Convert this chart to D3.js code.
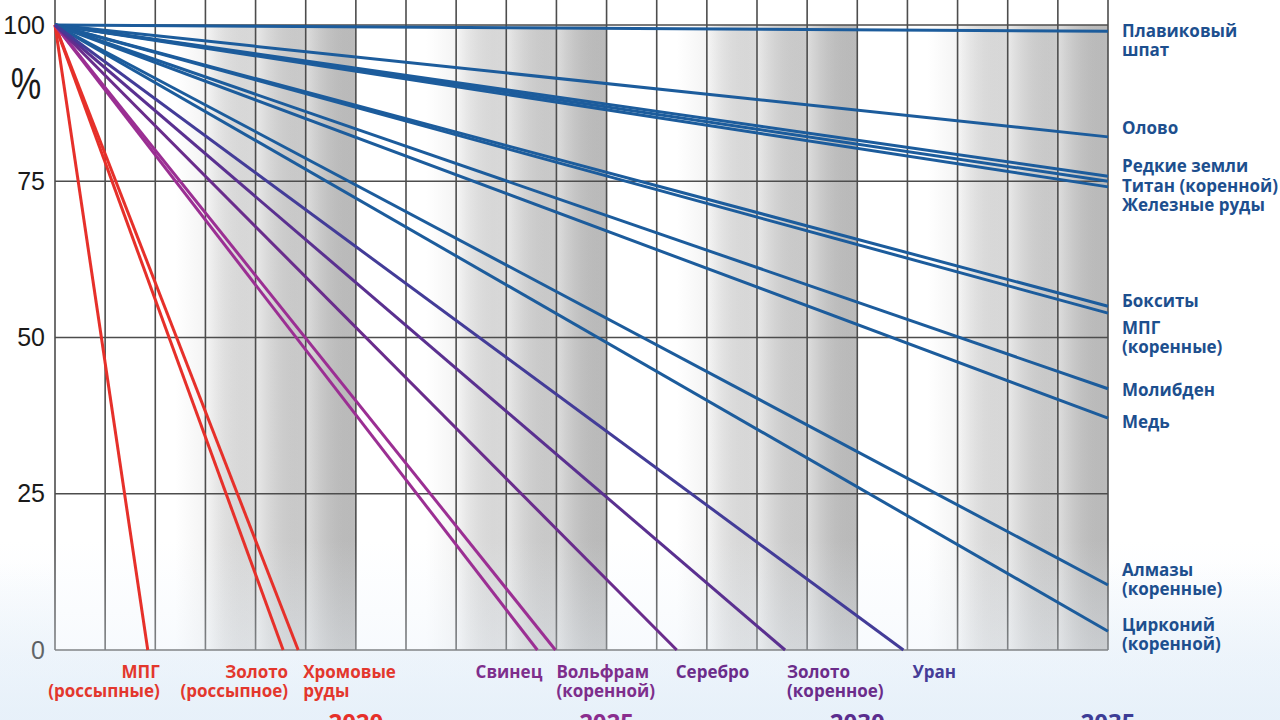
<!DOCTYPE html>
<html><head><meta charset="utf-8">
<script src="https://cdn.jsdelivr.net/npm/d3@7"></script>
<style>html,body{margin:0;padding:0;background:#fff;} svg{display:block}</style>
</head><body>
<svg id="chart" width="1280" height="720"></svg>
<script>
// ---------- DATA ----------
const startYear = 2014;
const endYear = 2035;
const yTickValues = [0, 25, 50, 75, 100];
const periodYears = [2020, 2025, 2030, 2035];

// commodities exhausted before 2035: year at which reserve reaches 0 %
const depletedNames = ["МПГ\n(россыпные)", "Золото\n(россыпное)", "Хромовые\nруды", "Свинец",
  "Вольфрам\n(коренной)", "Серебро", "Золото\n(коренное)", "Уран"];
const depletedYears = [2015.85, 2018.55, 2018.85, 2023.62, 2023.98, 2026.4, 2028.56, 2030.92];

// commodities remaining in 2035: reserve % left in 2035
const remainingNames = ["Плавиковый шпат", "Олово", "Редкие земли", "Титан (коренной)", "Железные руды",
  "Бокситы", "МПГ (коренные)", "Молибден", "Медь", "Алмазы (коренные)", "Цирконий (коренной)"];
const remaining2035 = [99.0, 82.1, 75.8, 75.0, 74.1, 55.0, 53.9, 41.8, 37.1, 10.4, 3.0];

// ---------- STYLE / LAYOUT ----------
const depletedColors = ["#e6302a", "#e6302a", "#e6302a", "#9b2f93", "#9b2f93", "#6a2c8c", "#5a3090", "#433c98"];
const depletedLabelColors = ["#e3372d", "#e3372d", "#e3372d", "#7e2e8c", "#7e2e8c", "#6b2c8a", "#6b2c8a", "#463d97"];
const depletedLabelAnchor = ["end", "end", "start", "end", "start", "start", "start", "start"];
const depletedLabelDx = [12, 5, 5, 5, 1, -1, 2, 9];
const yearColors = ["#e6302a", "#8a2d8e", "#5a2d8e", "#3d3d96"];
const blue = "#1c5c9c";
const blueLabel = "#1d4f8e";
const rightLabelLines = [["Плавиковый", "шпат"], ["Олово"], ["Редкие земли"], ["Титан (коренной)"], ["Железные руды"],
  ["Бокситы"], ["МПГ", "(коренные)"], ["Молибден"], ["Медь"], ["Алмазы", "(коренные)"], ["Цирконий", "(коренной)"]];
const rightLabelY = [31, 128, 166, 186, 205, 301, 328, 390, 422, 570, 625];

const svg = d3.select("#chart");
const W = 1280, H = 720;
const x = d3.scaleLinear().domain([startYear, endYear]).range([55, 1108]);
const y = d3.scaleLinear().domain([0, 100]).range([650, 25]);
const labelFont = "'Open Sans', 'Noto Sans', sans-serif";

const defs = svg.append("defs");
const bg = defs.append("linearGradient").attr("id", "bg").attr("x1", 0).attr("y1", 0).attr("x2", 0).attr("y2", 1);
bg.append("stop").attr("offset", 0).attr("stop-color", "#ffffff");
bg.append("stop").attr("offset", 0.78).attr("stop-color", "#ffffff");
bg.append("stop").attr("offset", 1).attr("stop-color", "#e6f0f9");
const band = defs.append("linearGradient").attr("id", "band").attr("x1", 0).attr("y1", 0).attr("x2", 1).attr("y2", 0);
band.append("stop").attr("offset", 0).attr("stop-color", "#ffffff");
band.append("stop").attr("offset", 0.25).attr("stop-color", "#eeeeee");
band.append("stop").attr("offset", 0.6).attr("stop-color", "#dadada");
band.append("stop").attr("offset", 1).attr("stop-color", "#c3c3c3");
const col = defs.append("linearGradient").attr("id", "col").attr("x1", 0).attr("y1", 0).attr("x2", 1).attr("y2", 0);
col.append("stop").attr("offset", 0).attr("stop-color", "#ffffff").attr("stop-opacity", 0.25);
col.append("stop").attr("offset", 1).attr("stop-color", "#000000").attr("stop-opacity", 0.04);
const fog = defs.append("linearGradient").attr("id", "fog").attr("x1", 0).attr("y1", 0).attr("x2", 0).attr("y2", 1);
fog.append("stop").attr("offset", 0).attr("stop-color", "#e8f1fa").attr("stop-opacity", 0);
fog.append("stop").attr("offset", 1).attr("stop-color", "#e8f1fa").attr("stop-opacity", 0.55);

svg.append("rect").attr("width", W).attr("height", H).attr("fill", "url(#bg)");
// plot background
svg.append("rect").attr("x", x(startYear)).attr("y", y(100)).attr("width", x(endYear) - x(startYear))
  .attr("height", y(0) - y(100)).attr("fill", "#ffffff");

// shaded 5-year bands
svg.append("g").selectAll("rect").data(periodYears).join("rect")
  .attr("x", d => x(d - 3.6)).attr("y", y(100))
  .attr("width", d => x(d) - x(d - 3.6)).attr("height", y(0) - y(100))
  .attr("fill", "url(#band)");
// subtle per-column shading inside bands
const bandCols = [];
periodYears.forEach(p => { for (let k = 3; k >= 1; k--) bandCols.push(p - k); });
svg.append("g").selectAll("rect").data(bandCols).join("rect")
  .attr("x", d => x(d)).attr("y", y(100))
  .attr("width", d => x(d + 1) - x(d)).attr("height", y(0) - y(100))
  .attr("fill", "url(#col)");

// grid
const years = d3.range(startYear, endYear + 1);
svg.append("g").selectAll("line").data(years).join("line")
  .attr("x1", d => x(d)).attr("x2", d => x(d)).attr("y1", 0).attr("y2", y(0))
  .attr("stroke", "#4d4d4d").attr("stroke-width", 1.6);
svg.append("g").selectAll("line").data(yTickValues).join("line")
  .attr("x1", x(startYear)).attr("x2", x(endYear)).attr("y1", d => y(d)).attr("y2", d => y(d))
  .attr("stroke", "#4d4d4d").attr("stroke-width", 1.6);

// y axis labels
const yAxis = d3.axisLeft(y).tickValues(yTickValues).tickSize(0).tickPadding(10).tickFormat(d3.format("d"));
const ga = svg.append("g").attr("transform", `translate(${x(startYear)},0)`).call(yAxis);
ga.select(".domain").remove();
ga.selectAll("text").attr("font-family", "'Liberation Sans', Arial, sans-serif").attr("font-size", 25).attr("fill", "#1a1a1a");
svg.append("text").attr("transform", "translate(26,99) scale(0.78,1)").attr("text-anchor", "middle")
  .attr("font-family", "'Liberation Sans', Arial, sans-serif").attr("font-size", 44).attr("fill", "#1a1a1a").text("%");

// fog overlay near bottom
svg.append("rect").attr("x", 0).attr("y", 540).attr("width", W).attr("height", 180).attr("fill", "url(#fog)");

// lines
const line = d3.line().x(d => x(d[0])).y(d => y(d[1]));
const remainingData = remainingNames.map((n, i) => ({ name: n, pts: [[startYear, 100], [endYear, remaining2035[i]]] }));
const depletedData = depletedNames.map((n, i) => ({ name: n, pts: [[startYear, 100], [depletedYears[i], 0]], i }));
svg.append("g").selectAll("path").data(remainingData).join("path")
  .attr("d", d => line(d.pts)).attr("fill", "none").attr("stroke", blue).attr("stroke-width", 3);
svg.append("g").selectAll("path").data(depletedData).join("path")
  .attr("d", d => line(d.pts)).attr("fill", "none").attr("stroke", d => depletedColors[d.i]).attr("stroke-width", 3);

// right labels
const rl = svg.append("g").attr("font-family", labelFont).attr("font-weight", 700).attr("font-size", 17).attr("fill", blueLabel);
rightLabelLines.forEach((lines, i) => {
  const t = rl.append("text").attr("x", 1122).attr("y", rightLabelY[i] + 6);
  lines.forEach((s, j) => t.append("tspan").attr("x", 1122).attr("dy", j ? 19 : 0).text(s));
});

// bottom labels
const bl = svg.append("g").attr("font-family", labelFont).attr("font-weight", 700).attr("font-size", 17);
depletedData.forEach((d, i) => {
  const xx = x(depletedYears[i]) + depletedLabelDx[i];
  const t = bl.append("text").attr("x", xx).attr("y", 678).attr("text-anchor", depletedLabelAnchor[i]).attr("fill", depletedLabelColors[i]);
  d.name.split("\n").forEach((s, j) => t.append("tspan").attr("x", xx).attr("dy", j ? 19 : 0).text(s));
});

// period years (cut off at the bottom edge)
svg.append("g").selectAll("text").data(periodYears).join("text")
  .attr("x", d => x(d)).attr("y", 731).attr("text-anchor", "middle")
  .attr("font-family", labelFont).attr("font-weight", 700).attr("font-size", 24)
  .attr("fill", (d, i) => yearColors[i]).text(d => d);
</script>
</body></html>
